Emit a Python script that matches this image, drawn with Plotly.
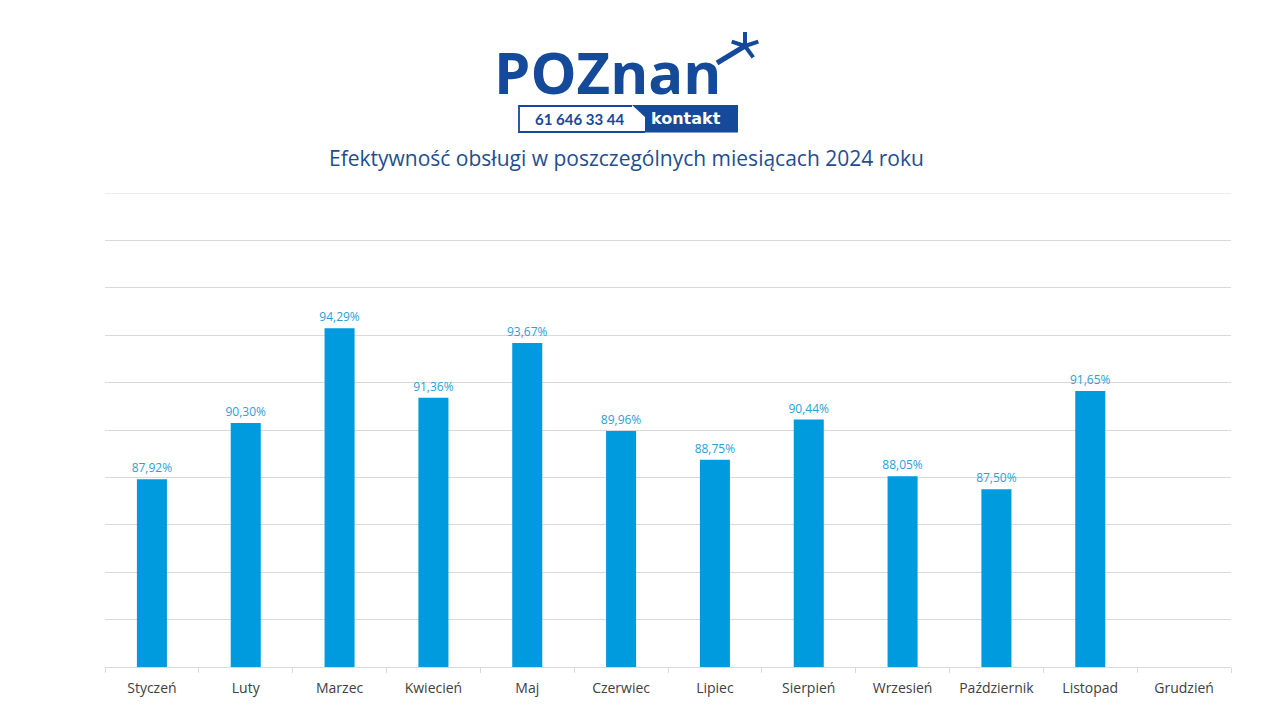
import math
import plotly.graph_objects as go

months = ["Styczeń", "Luty", "Marzec", "Kwiecień", "Maj", "Czerwiec", "Lipiec",
          "Sierpień", "Wrzesień", "Październik", "Listopad", "Grudzień"]
values = [87.92, 90.30, 94.29, 91.36, 93.67, 89.96, 88.75, 90.44, 88.05, 87.50, 91.65, None]
labels = [("" if v is None else f"{v:.2f}%".replace(".", ",")) for v in values]
y_min, y_max, y_step = 80, 100, 2

OFF = 8  # page body margin
W, H = 1280 - OFF, 720 - OFF
L, R, T, B = 105, 1231, 193, 667  # screen coords of plot area

def px(x):
    return (x - L) / (R - L)

def py(y):
    return (B - y) / (B - T)

LOGO = "#154a9a"

fig = go.Figure(go.Bar(
    x=months, y=values, text=labels, textposition="outside", constraintext="none",
    textfont=dict(family="Open Sans, Liberation Sans", size=12, color="#2a9fd8"),
    marker=dict(color="#009ade", line=dict(width=0)),
    width=0.32, cliponaxis=False, hoverinfo="skip",
))

fig.update_layout(
    width=W, height=H, paper_bgcolor="white", plot_bgcolor="white",
    margin=dict(l=L - OFF, r=1280 - R, t=T - OFF, b=720 - B),
    showlegend=False,
    xaxis=dict(showline=True, linecolor="#d9d9d9", linewidth=1,
               ticks="outside", tickson="boundaries", ticklen=5, tickcolor="#d9d9d9",
               ticklabelstandoff=8,
               tickfont=dict(family="Open Sans, Liberation Sans", size=14, color="#404040"),
               showgrid=False),
    yaxis=dict(range=[y_min, y_max], tick0=y_min, dtick=y_step, showgrid=True, gridcolor="#d9d9d9",
               showticklabels=False, zeroline=False, showline=False, ticks=""),
    font=dict(family="Open Sans, Liberation Sans"),
)

# title
fig.add_annotation(xref="paper", yref="paper", x=px(626), y=py(158),
                   text="Efektywność obsługi w poszczególnych miesiącach 2024 roku",
                   showarrow=False, xanchor="center", yanchor="middle", borderpad=0,
                   font=dict(family="Open Sans, Liberation Sans", size=21, color="#1f4e8f"))

# logo word
fig.add_annotation(xref="paper", yref="paper", x=px(493), y=py(71),
                   text="<b>POZnan</b>", showarrow=False, xanchor="left", yanchor="middle", borderpad=0,
                   font=dict(family="Open Sans", size=58, color=LOGO))

shapes = [dict(type="line", xref="paper", yref="y", x0=0, x1=1, y0=y_max, y1=y_max,
               line=dict(color="#d9d9d9", width=1), layer="below")]
# asterisk (5 arms), lower-left arm extended to join the n
cx, cy, r = 745, 46, 14
for ang in (90, 18, 162, -54):
    dx = r * math.cos(math.radians(ang))
    dy = r * math.sin(math.radians(ang))
    shapes.append(dict(type="line", xref="paper", yref="paper",
                       x0=px(cx), y0=py(cy), x1=px(cx + dx), y1=py(cy - dy),
                       line=dict(color=LOGO, width=4)))
shapes.append(dict(type="line", xref="paper", yref="paper",
                   x0=px(cx), y0=py(cy), x1=px(717), y1=py(63),
                   line=dict(color=LOGO, width=5)))
# outline box
shapes.append(dict(type="path", xref="paper", yref="paper",
                   path=f"M {px(632)} {py(106)} L {px(519)} {py(106)} L {px(519)} {py(132)} L {px(645)} {py(132)}",
                   line=dict(color=LOGO, width=1.8)))
# filled part
shapes.append(dict(type="path", xref="paper", yref="paper",
                   path=f"M {px(632)} {py(105)} L {px(738)} {py(105)} L {px(738)} {py(132.5)} L {px(645)} {py(132.5)} L {px(645)} {py(117)} Z",
                   fillcolor=LOGO, line=dict(width=0)))
fig.update_layout(shapes=shapes)

fig.add_annotation(xref="paper", yref="paper", x=px(580), y=py(119),
                   text="<b>61 646 33 44</b>", showarrow=False, xanchor="center", yanchor="middle", borderpad=0,
                   font=dict(family="Lato", size=15, color=LOGO))
fig.add_annotation(xref="paper", yref="paper", x=px(686), y=py(119),
                   text="<b>kontakt</b>", showarrow=False, xanchor="center", yanchor="middle", borderpad=0,
                   font=dict(family="DejaVu Sans", size=16, color="white"))

fig.write_html("out.html")
